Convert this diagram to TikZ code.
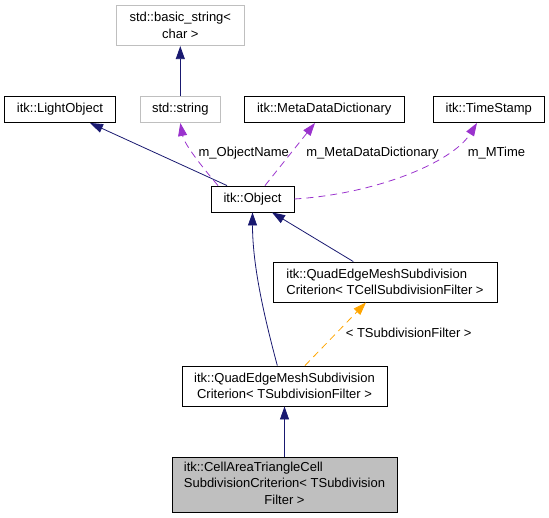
\documentclass[tikz,border=0pt]{standalone}
\usepackage{fontspec}
\setmainfont{Liberation Sans}
\usepackage{xcolor}
\usetikzlibrary{arrows.meta, positioning}

\definecolor{edgeblue}{HTML}{191970}
\definecolor{edgepurple}{HTML}{9A32CD}
\definecolor{edgeorange}{HTML}{FFA500}
\definecolor{boxgrey}{HTML}{BFBFBF}

\begin{document}
\begin{tikzpicture}[x=1pt, y=-1pt,
    txt/.style={inner sep=0pt, font=\fontsize{13}{16.5}\selectfont},
    cls/.style={txt, draw=black, line width=0.9pt, minimum height=26pt},
    ext/.style={cls, draw=boxgrey},
    inherit/.style={draw=edgeblue, line width=0.8pt, -{Triangle[length=13pt, width=9pt, fill=edgeblue]}},
    usage/.style={draw=edgepurple, line width=0.8pt, dash pattern=on 7pt off 5pt,
        -{Triangle[length=13pt, width=9pt, fill=edgepurple]}},
    tmpl/.style={draw=edgeorange, line width=0.8pt, dash pattern=on 7pt off 5pt,
        -{Triangle[length=13pt, width=9pt, fill=edgeorange]}}]
    \useasboundingbox (0,0) rectangle (549,517);

    % Klassen
    \node[ext, minimum width=127.4pt, minimum height=40.7pt, align=center] (basicstr) at (180.3,25.3) {std::basic\_string<\\char >};
    \node[cls, minimum width=111.3pt] (lightobj) at (59.9,109.5) {itk::LightObject};
    \node[ext, minimum width=80.6pt] (stdstr) at (180.3,109.5) {std::string};
    \node[cls, minimum width=160.5pt] (metadict) at (324.2,109.5) {itk::MetaDataDictionary};
    \node[cls, minimum width=111.5pt] (timestamp) at (488.8,109.5) {itk::TimeStamp};
    \node[cls, minimum width=83pt] (object) at (252.5,199) {itk::Object};
    \node[cls, minimum width=224pt, minimum height=40pt, align=left] (critC) at (385,282)
        {itk::QuadEdgeMeshSubdivision\\Criterion< TCellSubdivisionFilter >};
    \node[cls, minimum width=205pt, minimum height=40pt, align=center] (critS) at (284.5,386)
        {itk::QuadEdgeMeshSubdivision\\Criterion< TSubdivisionFilter >};
    \node[cls, fill=boxgrey, minimum width=225pt, minimum height=55pt] (cellcrit) at (284.5,484.5)
        {\begin{tabular}{@{}l@{}}itk::CellAreaTriangleCell\\SubdivisionCriterion< TSubdivision\\\multicolumn{1}{@{}c@{}}{Filter >}\end{tabular}};

    % Vererbung
    \draw[inherit] (stdstr.north) -- (basicstr.south);
    \draw[inherit] ([xshift=-25.5pt]object.north) -- ([xshift=30.1pt]lightobj.south);
    \draw[inherit] ([xshift=-31.7pt]critC.north) -- ([xshift=19.5pt]object.south);
    \draw[inherit] ([xshift=-7.2pt]critS.north) .. controls +(-12,-45) and +(0,55) .. (object.south);
    \draw[inherit] (cellcrit.north) -- (critS.south);

    % Membervariablen
    \draw[usage] ([xshift=-34.5pt]object.north) .. controls +(-12,-14) and +(4,22) .. (stdstr.south);
    \draw[usage] ([xshift=12.5pt]object.north) -- ([xshift=-9.2pt]metadict.south);
    \draw[usage] (object.east) .. controls +(80,-5) and +(-25,40) .. ([xshift=-11.8pt]timestamp.south);
    \node[txt] (lblname) at (243.8,153) {m\_ObjectName};
    \node[txt] (lbldict) at (372.5,153) {m\_MetaDataDictionary};
    \node[txt] (lbltime) at (496.5,153) {m\_MTime};

    % Template
    \draw[tmpl] ([xshift=20.5pt]critS.north) -- ([xshift=-19pt]critC.south);
    \node[txt] (lbltmpl) at (408.7,333) {< TSubdivisionFilter >};
\end{tikzpicture}
\end{document}
